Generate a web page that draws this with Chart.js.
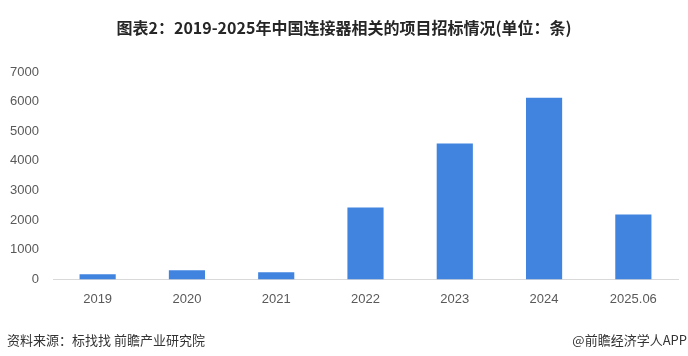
<!DOCTYPE html>
<html>
<head>
<meta charset="utf-8">
<script src="https://cdn.jsdelivr.net/npm/chart.js@4"></script>
<style>
    html, body { margin: 0; padding: 0; background: #fff; }
    #wrap { position: relative; width: 688px; height: 356px; }
    #title {
        position: absolute; left: 0; top: 17px; width: 688px; text-align: center;
        font: bold 16px "Noto Sans CJK SC", sans-serif; color: #262626; line-height: 20px;
    }
    .src {
        position: absolute; top: 331px; font: 13px "Noto Sans CJK SC", sans-serif;
        color: #333; line-height: 18px;
    }
</style>
</head>
<body>
<div id="wrap">
    <canvas id="chart" width="688" height="356"></canvas>
    <div id="title">图表2：2019-2025年中国连接器相关的项目招标情况(单位：条)</div>
    <div class="src" style="left:7px;">资料来源：标找找 前瞻产业研究院</div>
    <div class="src" style="right:1px;">@前瞻经济学人APP</div>
</div>
<script>
// bidding items per year
const years = ['2019', '2020', '2021', '2022', '2023', '2024', '2025.06'];
const counts = [175, 310, 240, 2430, 4590, 6130, 2190];
const yTicks = [0, 1000, 2000, 3000, 4000, 5000, 6000, 7000];

const ctx = document.getElementById('chart');

new Chart(ctx, {
    type: 'bar',
    data: {
        labels: years,
        datasets: [{
            data: counts,
            backgroundColor: '#4184df',
            barPercentage: 0.405,
            categoryPercentage: 1
        }]
    },
    options: {
        responsive: false,
        animation: false,
        layout: {
            padding: { left: 0, right: 10, top: 72, bottom: 45 }
        },
        plugins: {
            legend: { display: false },
            tooltip: { enabled: false }
        },
        scales: {
            x: {
                grid: { display: false },
                border: { color: '#d9d9d9', width: 1 },
                ticks: {
                    color: '#595959',
                    padding: 4,
                    font: { size: 13, family: "'Liberation Sans', Arial, sans-serif" }
                }
            },
            y: {
                min: 0,
                max: 7000,
                afterFit: (scale) => { scale.width = 53; },
                afterBuildTicks: (scale) => { scale.ticks = yTicks.map(v => ({ value: v })); },
                grid: { display: false, drawTicks: false },
                border: { display: false },
                ticks: {
                    color: '#595959',
                    padding: 14,
                    callback: (v) => String(v),
                    font: { size: 13, family: "'Liberation Sans', Arial, sans-serif" }
                }
            }
        }
    }
});
</script>
</body>
</html>
